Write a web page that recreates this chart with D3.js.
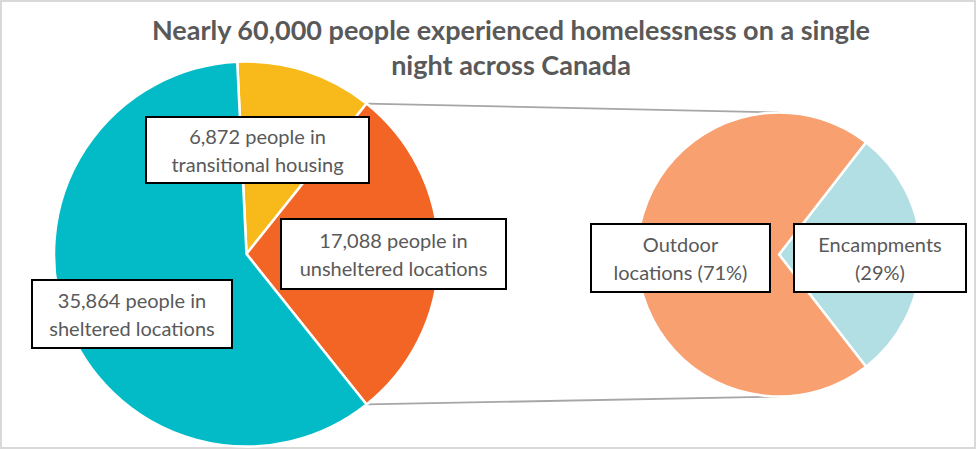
<!DOCTYPE html>
<html><head><meta charset="utf-8">
<script src="https://cdn.jsdelivr.net/npm/d3@7"></script>
<style>
html,body{margin:0;padding:0;background:#fff;}
svg{display:block;}
</style></head>
<body>
<script>
// ---- data ----
const mainCategories = ["transitional housing", "unsheltered locations", "sheltered locations"];
const mainValues = [6872, 17088, 35864];
const mainLabels = [["6,872 people in", "transitional housing"], ["17,088 people in", "unsheltered locations"], ["35,864 people in", "sheltered locations"]];
const mainColors = ["#F8BA1B", "#F26524", "#03BBC7"];
const subCategories = ["Encampments", "Outdoor locations"];
const subValues = [29, 71];
const subLabels = [["Encampments", "(29%)"], ["Outdoor", "locations (71%)"]];
const subColors = ["#B2DFE4", "#F8A070"];
const titleLines = ["Nearly 60,000 people experienced homelessness on a single", "night across Canada"];

const W = 977, H = 450;
const svg = d3.select("body").append("svg").attr("width", W).attr("height", H);
svg.append("rect").attr("x", 1).attr("y", 1).attr("width", W - 3).attr("height", H - 3)
  .attr("fill", "#fff").attr("stroke", "#D9D9D9").attr("stroke-width", 2);

const FONT = "Lato, 'Open Sans', sans-serif";
const TXT = "#595959";

// title
svg.append("text").attr("text-anchor", "middle").attr("font-family", FONT)
  .attr("font-weight", "bold").attr("font-size", 27).attr("fill", TXT)
  .selectAll("tspan").data(titleLines).join("tspan")
  .attr("x", 511).attr("y", (d, i) => 40 + i * 35).text(d => d);

// main pie
const c1 = {x: 246.5, y: 254, r: 192.5};
const total = d3.sum(mainValues);
const explodedIdx = 1;
const start1 = Math.PI / 2 - (mainValues[explodedIdx] / total) * Math.PI - (mainValues[0] / total) * 2 * Math.PI;
const pie1 = d3.pie().sort(null).startAngle(start1).endAngle(start1 + 2 * Math.PI)(mainValues);

// secondary pie
const c2 = {x: 779, y: 254.5, r: 142};
const subTotal = d3.sum(subValues);
const start2 = Math.PI / 2 - (subValues[0] / subTotal) * Math.PI;
const pie2 = d3.pie().sort(null).startAngle(start2).endAngle(start2 + 2 * Math.PI)(subValues);

// connector lines
const ex = pie1[explodedIdx];
const pt = (c, a) => [c.x + c.r * Math.sin(a), c.y - c.r * Math.cos(a)];
const conn = [[pt(c1, ex.startAngle), [c2.x, c2.y - c2.r]], [pt(c1, ex.endAngle), [c2.x, c2.y + c2.r]]];
svg.append("g").selectAll("line").data(conn).join("line")
  .attr("x1", d => d[0][0]).attr("y1", d => d[0][1]).attr("x2", d => d[1][0]).attr("y2", d => d[1][1])
  .attr("stroke", "#A6A6A6").attr("stroke-width", 1.8);

const arc1 = d3.arc().innerRadius(0).outerRadius(c1.r);
svg.append("g").attr("transform", `translate(${c1.x},${c1.y})`)
  .selectAll("path").data(pie1).join("path")
  .attr("d", arc1).attr("fill", (d, i) => mainColors[i])
  .attr("stroke", "#fff").attr("stroke-width", 2.5).attr("stroke-linejoin", "round");

const arc2 = d3.arc().innerRadius(0).outerRadius(c2.r);
svg.append("g").attr("transform", `translate(${c2.x},${c2.y})`)
  .selectAll("path").data(pie2).join("path")
  .attr("d", arc2).attr("fill", (d, i) => subColors[i])
  .attr("stroke", "#fff").attr("stroke-width", 2.5).attr("stroke-linejoin", "round");

// label boxes
const boxes = [
  {lines: mainLabels[0], x: 146, y: 117, w: 223, h: 66},
  {lines: mainLabels[1], x: 281, y: 219, w: 225, h: 70},
  {lines: mainLabels[2], x: 32, y: 280, w: 200, h: 68},
  {lines: subLabels[1], x: 591, y: 224, w: 179, h: 68},
  {lines: subLabels[0], x: 794, y: 224, w: 172, h: 68}
];
const bg = svg.append("g").selectAll("g").data(boxes).join("g");
bg.append("rect").attr("x", d => d.x).attr("y", d => d.y).attr("width", d => d.w).attr("height", d => d.h)
  .attr("fill", "#fff").attr("stroke", "#000").attr("stroke-width", 2);
bg.append("text").attr("text-anchor", "middle").attr("font-family", FONT).attr("font-size", 20).attr("fill", TXT)
  .each(function(d) {
    d3.select(this).selectAll("tspan").data(d.lines).join("tspan")
      .attr("x", d.x + d.w / 2).attr("y", (l, i) => d.y + d.h / 2 - 6 + i * 28).text(l => l);
  });
</script>
</body></html>
